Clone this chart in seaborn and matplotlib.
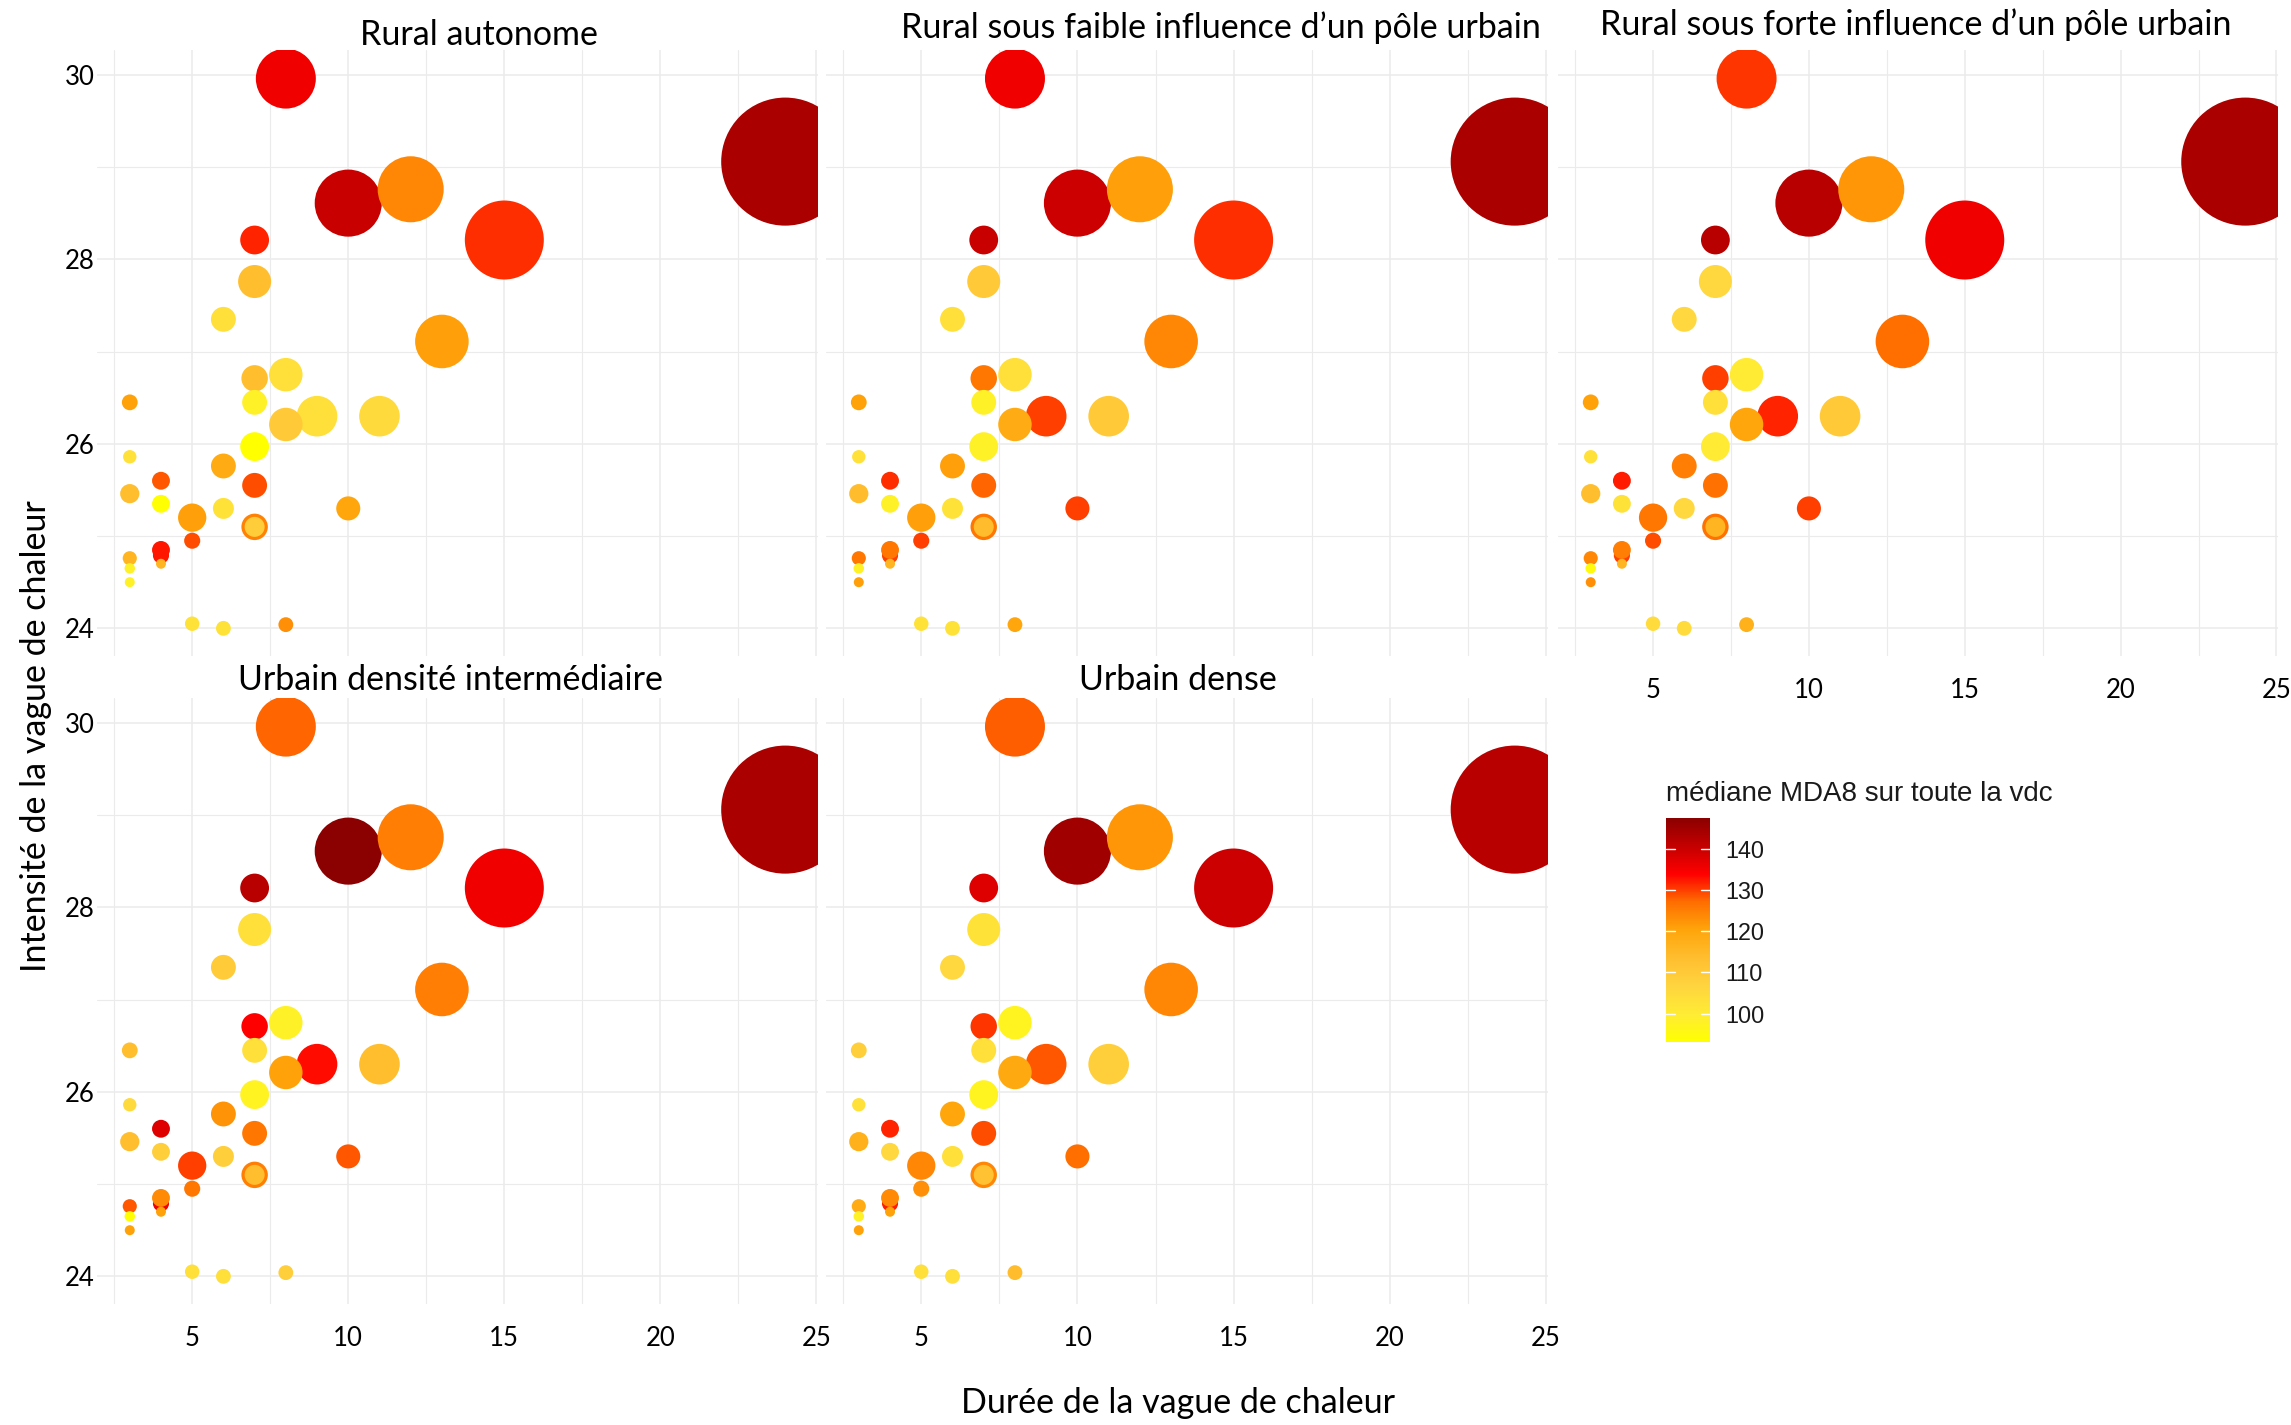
import matplotlib
matplotlib.use("Agg")
import matplotlib.pyplot as plt
from matplotlib.colors import LinearSegmentedColormap, Normalize
from matplotlib.cm import ScalarMappable
import numpy as np
import pandas as pd
import seaborn as sns

# ---------------------------------------------------------------------------
# Heat-wave events: duration (days), intensity (°C) and a severity weight
# (drives bubble area). The same events are shown for every territory type;
# only the median MDA8 ozone over the whole wave changes.
# ---------------------------------------------------------------------------
duree = [8, 24, 10, 12, 15, 7, 7, 6, 13, 7, 8, 7, 3, 9, 8, 11, 7, 3, 6, 4,
         7, 3, 4, 6, 10, 5, 7, 7, 5, 4, 4, 3, 4, 3, 3, 5, 6, 8]
intensite = [29.96, 29.06, 28.61, 28.76, 28.21, 28.21, 27.76, 27.35, 27.11, 26.71,
             26.75, 26.45, 26.45, 26.30, 26.21, 26.30, 25.97, 25.86, 25.76, 25.60,
             25.55, 25.46, 25.35, 25.30, 25.30, 25.20, 25.10, 25.10, 24.95, 24.79,
             24.85, 24.76, 24.70, 24.65, 24.50, 24.05, 24.00, 24.04]
severite = [36, 164, 45, 43.6, 62.4, 8.3, 10.9, 6.2, 28.7, 7.0,
            11.2, 6.2, 2.5, 16.5, 11.2, 16.5, 8.3, 1.8, 6.2, 3.2,
            6.2, 3.7, 3.2, 4.4, 5.8, 8.0, 7.0, 4.0, 2.6, 2.6,
            3.2, 2.0, 1.0, 1.1, 1.0, 2.1, 2.2, 2.2]

# Median MDA8 over the heat wave, per territory type
mda8_rural_autonome = [135.5, 143.5, 140, 124, 131, 131.5, 113.5, 103.5, 121, 113.5,
                       103.5, 98, 120.5, 103.5, 110, 105, 93.1, 103, 118.5, 128.5,
                       129, 113.5, 93.5, 102.5, 120, 121, 124.5, 109, 129, 132.5,
                       132.5, 116, 116, 98, 98, 102.5, 102.5, 123]
mda8_rural_faible = [135.5, 143.5, 139.7, 121, 131, 140, 110, 103.5, 124, 126,
                     103.5, 98, 120.5, 130, 118.5, 110, 98, 103, 121, 131,
                     127.5, 114, 98, 102.5, 130, 121, 126, 114, 130, 130,
                     126, 126, 116, 98, 121, 102.5, 102.5, 120]
mda8_rural_forte = [130.5, 143.5, 142, 122, 135.5, 142, 106, 106, 127, 130,
                    100, 103.5, 120.5, 131.5, 120, 110, 100, 103, 125, 132,
                    126.5, 113.5, 102.5, 106, 130, 126, 126.5, 116, 129, 130,
                    125, 124, 116, 95, 123, 104.5, 104.5, 117]
mda8_urbain_intermediaire = [127.5, 143.5, 147.4, 125, 135.5, 142, 103.5, 109.5, 125, 134,
                             98, 103.5, 113.5, 133, 120.5, 113.5, 97.5, 105, 122.5, 137.5,
                             126, 113.5, 108.5, 108.5, 128.5, 130, 125, 113.5, 126, 135.5,
                             123.5, 128.5, 120.5, 93.5, 120.5, 103.5, 103.5, 108.5]
mda8_urbain_dense = [128, 142, 144.7, 122, 139.7, 137.5, 102.5, 106, 124, 130.5,
                     97, 103.5, 108.5, 128.5, 119, 108.5, 97, 103, 120, 131.5,
                     129, 117, 106, 103.5, 127, 124, 124, 112, 123, 132,
                     123.5, 118.5, 120.5, 98, 120.5, 103.5, 103.5, 114]

zones = ["Rural autonome",
         "Rural sous faible influence d’un pôle urbain",
         "Rural sous forte influence d’un pôle urbain",
         "Urbain densité intermédiaire",
         "Urbain dense"]
mda8_par_zone = [mda8_rural_autonome, mda8_rural_faible, mda8_rural_forte,
                 mda8_urbain_intermediaire, mda8_urbain_dense]

df = pd.concat(
    [pd.DataFrame({"duree": duree, "intensite": intensite, "severite": severite,
                   "mda8": vals, "zone": z})
     for z, vals in zip(zones, mda8_par_zone)],
    ignore_index=True)

# ---------------------------------------------------------------------------
# Styling
# ---------------------------------------------------------------------------
sns.set_style("white")
plt.rcParams["font.family"] = ["Lato", "DejaVu Sans"]

W, H = 2291, 1425
fig = plt.figure(figsize=(W / 100, H / 100), dpi=100)
fig.patch.set_facecolor("white")

# yellow -> orange -> red -> dark red, with soft (lab-like) intermediate tones
cmap = LinearSegmentedColormap.from_list("mda8", [
    (0.0, "#FFFF00"), (0.12, "#FFEC34"), (0.25, "#FFD43F"), (0.38, "#FFBD2E"),
    (0.5, "#FFA50A"), (0.625, "#FF6E00"), (0.75, "#FF0000"), (0.875, "#C40000"),
    (1.0, "#8B0000")])
norm = Normalize(vmin=df["mda8"].min(), vmax=df["mda8"].max())

# bubble area: one severity unit = a 5 px radius squared (in points^2)
k_area = (2 * 5 * 72 / 100) ** 2
s_min, s_max = min(severite), max(severite)


def rect(left, top, right, bottom):
    return [left / W, 1 - bottom / H, (right - left) / W, (bottom - top) / H]


# panel boxes (pixels) and which axes carry tick labels
layout = [
    ((97, 50, 818, 656), False, True),
    ((826, 50, 1547.5, 656), False, False),
    ((1558, 50, 2278, 656), True, False),
    ((97, 698, 818, 1304), True, True),
    ((826, 698, 1547.5, 1304), True, False),
]
title_pos = [(479, 45), (1221, 38), (1916, 35), (450, 690), (1178, 690)]

grid_col = "#EBEBEB"
for zone, (box, show_x, show_y), (tx, ty) in zip(zones, layout, title_pos):
    ax = fig.add_axes(rect(*box))
    sub = df[df["zone"] == zone]
    sns.scatterplot(data=sub, x="duree", y="intensite", hue="mda8", size="severite",
                    palette=cmap, hue_norm=norm, sizes=(k_area * s_min, k_area * s_max),
                    size_norm=(s_min, s_max), linewidth=0, edgecolor="none",
                    legend=False, ax=ax)
    ax.set_xlim(1.95, 25.05)
    ax.set_ylim(23.70, 30.27)
    ax.set_xticks([5, 10, 15, 20, 25])
    ax.set_xticks(np.arange(2.5, 25, 5), minor=True)
    ax.set_yticks([24, 26, 28, 30])
    ax.set_yticks([25, 27, 29], minor=True)
    ax.set_axisbelow(True)
    ax.grid(which="major", color=grid_col, linewidth=1.1)
    ax.grid(which="minor", color=grid_col, linewidth=0.8)
    for sp in ax.spines.values():
        sp.set_visible(False)
    ax.tick_params(which="both", length=0)
    ax.tick_params(axis="x", pad=15.5, labelsize=18.5, labelcolor="black",
                   labelbottom=show_x)
    ax.tick_params(axis="y", pad=1.5, labelsize=18.5, labelcolor="black",
                   labelleft=show_y)
    ax.set_xlabel("")
    ax.set_ylabel("")
    fig.text(tx / W, 1 - ty / H, zone, ha="center", va="baseline",
             fontsize=24.5, color="black")

# axis titles
fig.text(1178 / W, 1 - 1413 / H, "Durée de la vague de chaleur",
         ha="center", va="baseline", fontsize=24.5, color="black")
fig.text(36 / W, 1 - 736 / H, "Intensité de la vague de chaleur",
         ha="center", va="center", rotation=90, fontsize=24.5, color="black")

# colour bar legend
cax = fig.add_axes(rect(1666, 818, 1710, 1042))
cb = fig.colorbar(ScalarMappable(norm=norm, cmap=cmap), cax=cax)
cb.outline.set_visible(False)
ticks = [100, 110, 120, 130, 140]
cb.set_ticks(ticks)
cax.tick_params(length=0, pad=11, labelsize=16.8, labelcolor="#1a1a1a")
for lab in cax.get_yticklabels():
    lab.set_fontfamily(["Liberation Sans", "DejaVu Sans"])
for t in ticks:
    cax.plot([0, 0.2], [t, t], color="white", linewidth=1.0)
    cax.plot([0.8, 1.0], [t, t], color="white", linewidth=1.0)
cax.set_xlim(0, 1)
fig.text(1666 / W, 1 - 801 / H, "médiane MDA8 sur toute la vdc", ha="left",
         va="baseline", fontsize=20, color="#1a1a1a",
         family=["Liberation Sans", "DejaVu Sans"])

fig.savefig("out.png", dpi=100, facecolor="white")
